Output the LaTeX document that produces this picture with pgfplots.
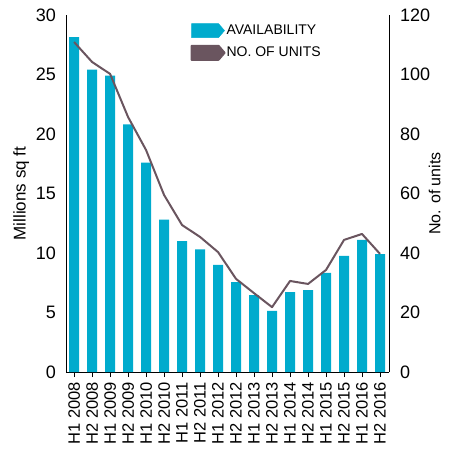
\documentclass[border=0pt]{standalone}
\usepackage{pgfplots}
\pgfplotsset{compat=1.18}
\usepackage{fontspec}
\setmainfont{Liberation Sans}
\definecolor{barc}{HTML}{00ABCD}
\definecolor{linec}{HTML}{6A555F}
\begin{document}
\begin{tikzpicture}
\pgfplotsset{
  every axis/.append style={
    scale only axis, width=323pt, height=357pt,
    xmin=-0.45, xmax=17.5,
    /pgf/number format/assume math mode=true,
    tick style={black, line width=0.8pt},
    tick align=outside,
    major tick length=5pt,
    axis line style={black, line width=0.9pt},
    tick label style={font=\fontsize{18}{18}\selectfont},
  },
}
\begin{axis}[
  axis y line*=left, axis x line*=bottom,
  ymin=0, ymax=30, ytick={0,5,...,30},
  ytick style={draw=none},
  xtick={0,...,17},
  xticklabels={H1 2008,H2 2008,H1 2009,H2 2009,H1 2010,H2 2010,H1 2011,H2 2011,H1 2012,H2 2012,H1 2013,H2 2013,H1 2014,H2 2014,H1 2015,H2 2015,H1 2016,H2 2016},
  x tick label style={rotate=90, anchor=east, font=\fontsize{16.5}{16.5}\selectfont, inner sep=1pt},
  xticklabel shift=4pt,
  yticklabel style={inner sep=0pt},
  yticklabel shift=5pt,
  ylabel={Millions sq ft},
  ylabel style={font=\fontsize{17}{17}\selectfont},
  ylabel shift=3pt,
]
\addplot[ybar, bar width=10pt, fill=barc, draw=none] coordinates {
(0,28.15) (1,25.4) (2,24.9) (3,20.8) (4,17.6) (5,12.8) (6,11.0) (7,10.3) (8,9.0) (9,7.56) (10,6.47) (11,5.13) (12,6.72) (13,6.89) (14,8.32) (15,9.75) (16,11.1) (17,9.9)};
\end{axis}
\begin{axis}[
  axis y line*=right, axis x line=none,
  ymin=0, ymax=120, ytick={0,20,...,120},
  ytick style={draw=none},
  yticklabel style={inner sep=0pt},
  yticklabel shift=6pt,
  ylabel={No. of units},
  ylabel style={font=\fontsize{16}{16}\selectfont},
  ylabel shift=-5pt,
  legend style={draw=none, fill=none, at={(0.385,0.977)}, anchor=north west,
    font=\fontsize{14}{14}\selectfont, row sep=7pt, inner sep=0pt,
    nodes={inner sep=1pt}},
  legend cell align=left,
]
\addlegendimage{legend image code/.code={\fill[barc] (0pt,-7pt) -- (27pt,-7pt) -- (33pt,0pt) -- (27pt,7pt) -- (0pt,7pt) -- cycle;}}
\addlegendentry{AVAILABILITY}
\addplot[linec, line width=2pt, line join=round,
  legend image code/.code={\fill[linec] (0pt,-7pt) -- (27pt,-7pt) -- (33pt,0pt) -- (27pt,7pt) -- (0pt,7pt) -- cycle;}] coordinates {
(0,110.9) (1,104.2) (2,100.2) (3,85.7) (4,74.6) (5,59.5) (6,49.4) (7,45.4) (8,40.3) (9,31.3) (10,26.5) (11,21.8) (12,30.6) (13,29.6) (14,34.3) (15,44.4) (16,46.4) (17,39.7)};
\addlegendentry{NO. OF UNITS}
\end{axis}
\pgfresetboundingbox
\path[use as bounding box] ([xshift=-66pt,yshift=-76pt]current axis.south west) rectangle ([xshift=65pt,yshift=15pt]current axis.north east);
\end{tikzpicture}
\end{document}
